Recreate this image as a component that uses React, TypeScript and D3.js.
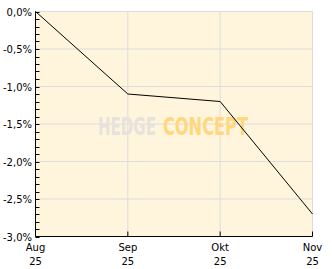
import React, { useLayoutEffect, useRef } from "react";
import * as d3 from "d3";

const months = ["Aug", "Sep", "Okt", "Nov"];
const years = ["25", "25", "25", "25"];
const values = [0, -1.1, -1.2, -2.7];
const yTicks = [0, -0.5, -1, -1.5, -2, -2.5, -3];

function FitText({ x, y, w, fill, children }: { x: number; y: number; w: number; fill: string; children: string }) {
  const ref = useRef<SVGTextElement>(null);
  useLayoutEffect(() => {
    const el = ref.current;
    if (!el) return;
    const len = el.getComputedTextLength();
    const s = len > 0 ? w / len : 1;
    el.setAttribute("transform", `translate(${x},${y}) scale(${s},1)`);
  }, [x, y, w]);
  return (
    <text ref={ref} x={0} y={0} fill={fill} fontFamily="'Liberation Sans Narrow', 'DejaVu Sans Condensed', sans-serif" fontWeight="bold" fontSize={25} transform={`translate(${x},${y})`}>
      {children}
    </text>
  );
}

export default function App() {
  const W = 332, H = 269;
  const left = 35.5, right = 312.5, top = 11.5, bottom = 236.5;
  const x = d3.scalePoint<number>().domain(d3.range(months.length)).range([left, right]);
  const y = d3.scaleLinear().domain([-3, 0]).range([bottom, top]);
  const minor = d3.range(-3, 0.001, 0.1).map((v) => Math.round(v * 10) / 10);
  const line = d3.line<number>().x((_, i) => x(i)!).y((d) => y(d));
  const font = "'DejaVu Sans', Verdana, sans-serif";
  const fmt = (v: number) => v.toFixed(1).replace(".", ",") + "%";
  return (
    <svg width={W} height={H} style={{ position: "absolute", left: 0, top: 0, background: "#fff" }}>
      <rect x={left} y={top} width={right - left} height={bottom - top} fill="#fff5dc" />
      {yTicks.map((t) => (
        <line key={"g" + t} x1={left} x2={right} y1={y(t)} y2={y(t)} stroke="#dcdcdc" strokeWidth={1} />
      ))}
      {months.map((m, i) => (
        <line key={"gx" + m} x1={x(i)} x2={x(i)} y1={top} y2={bottom} stroke="#dcdcdc" strokeWidth={1} />
      ))}
      <FitText x={98} y={135} w={58} fill="#e6e2dc">HEDGE</FitText>
      <FitText x={163} y={135} w={85} fill="#ffd77f">CONCEPT</FitText>
      <path d={line(values)!} fill="none" stroke="#000" strokeWidth={1} />
      {minor.map((t) => (
        <line key={"m" + t} x1={left} x2={left + 4} y1={Math.round(y(t)) + 0.5} y2={Math.round(y(t)) + 0.5} stroke="#000" />
      ))}
      {months.map((m, i) => (
        <line key={"t" + m} x1={x(i)} x2={x(i)} y1={bottom} y2={bottom - 5} stroke="#000" />
      ))}
      <line x1={left} x2={left} y1={top} y2={bottom} stroke="#000" />
      <line x1={left} x2={right} y1={bottom} y2={bottom} stroke="#000" />
      <g fontFamily={font} fontSize={10} fill="#000">
        {yTicks.map((t) => (
          <text key={"yl" + t} x={32} y={y(t) + 4} textAnchor="end">{fmt(t)}</text>
        ))}
        {months.map((m, i) => (
          <text key={"xl" + m} x={x(i)} textAnchor="middle">
            <tspan x={x(i)} y={251}>{m}</tspan>
            <tspan x={x(i)} y={265}>{years[i]}</tspan>
          </text>
        ))}
      </g>
    </svg>
  );
}
